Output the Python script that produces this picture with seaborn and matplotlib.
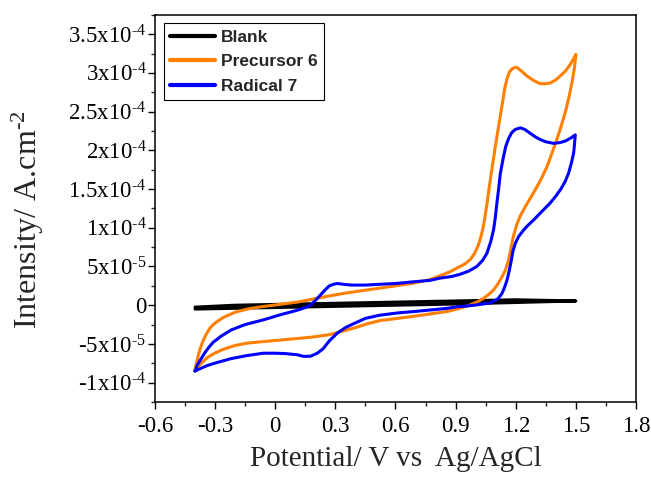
import numpy as np
import pandas as pd
import matplotlib
matplotlib.use("Agg")
import matplotlib.pyplot as plt
from matplotlib.ticker import FixedLocator, FixedFormatter, MultipleLocator
import seaborn as sns

# currents are in units of 1e-4 A/cm2, potentials in V vs Ag/AgCl
# each curve: forward scan -0.4 -> 1.5 then reverse 1.5 -> -0.4
blank_v = [-0.40, -0.20, 0.00, 0.30, 0.60, 0.90, 1.20, 1.50,
           1.20, 0.90, 0.60, 0.30, 0.00, -0.20, -0.40]
blank_i = [-0.050, -0.040, -0.030, -0.015, 0.000, 0.015, 0.035, 0.055,
           0.070, 0.055, 0.040, 0.025, 0.010, 0.000, -0.025]

prec_v = [-0.400, -0.392, -0.384, -0.374, -0.360, -0.345, -0.324, -0.300, -0.260, -0.200,
          -0.140, -0.070, -0.010, 0.050, 0.110, 0.190, 0.270, 0.360, 0.440, 0.520,
          0.600, 0.680, 0.770, 0.823, 0.870, 0.907, 0.945, 0.973, 0.995, 1.014,
          1.028, 1.040, 1.056, 1.073, 1.098, 1.115, 1.131, 1.145, 1.156, 1.168,
          1.181, 1.194, 1.206, 1.230, 1.256, 1.290, 1.322, 1.350, 1.372, 1.400,
          1.422, 1.450, 1.472, 1.488, 1.500,
          1.492, 1.480, 1.465, 1.447, 1.425, 1.405, 1.380, 1.356, 1.325, 1.297,
          1.272, 1.245, 1.222, 1.205, 1.189, 1.176, 1.164, 1.148, 1.130, 1.110,
          1.090, 1.070, 1.040, 1.006, 0.970, 0.907, 0.860, 0.780, 0.700, 0.610,
          0.520, 0.460, 0.400, 0.330, 0.270, 0.190, 0.110, 0.025, -0.060, -0.140,
          -0.200, -0.260, -0.310, -0.340, -0.365, -0.385, -0.400]
prec_i = [-0.84, -0.74, -0.65, -0.56, -0.46, -0.38, -0.29, -0.23, -0.16, -0.09,
          -0.05, -0.02, 0.00, 0.02, 0.04, 0.08, 0.12, 0.16, 0.19, 0.22,
          0.25, 0.28, 0.33, 0.38, 0.43, 0.48, 0.53, 0.59, 0.67, 0.78,
          0.90, 1.04, 1.30, 1.62, 2.05, 2.32, 2.57, 2.80, 2.92, 3.01,
          3.05, 3.07, 3.07, 3.02, 2.96, 2.90, 2.86, 2.86, 2.87, 2.91,
          2.96, 3.03, 3.11, 3.18, 3.24,
          3.05, 2.87, 2.68, 2.49, 2.30, 2.14, 1.96, 1.79, 1.62, 1.49,
          1.38, 1.26, 1.15, 1.04, 0.90, 0.74, 0.58, 0.45, 0.36, 0.27,
          0.20, 0.15, 0.09, 0.04, 0.00, -0.05, -0.08, -0.11, -0.14, -0.17,
          -0.20, -0.24, -0.29, -0.34, -0.38, -0.41, -0.43, -0.45, -0.47, -0.49,
          -0.52, -0.57, -0.63, -0.68, -0.74, -0.79, -0.84]

rad_v = [-0.400, -0.390, -0.374, -0.350, -0.330, -0.310, -0.270, -0.220, -0.150, -0.060,
         0.030, 0.110, 0.150, 0.175, 0.200, 0.225, 0.250, 0.270, 0.290, 0.310,
         0.340, 0.380, 0.450, 0.520, 0.600, 0.680, 0.770, 0.823, 0.880, 0.923,
         0.965, 1.006, 1.035, 1.056, 1.075, 1.089, 1.098, 1.106, 1.114, 1.123,
         1.139, 1.150, 1.164, 1.180, 1.198, 1.223, 1.245, 1.272, 1.300, 1.322,
         1.350, 1.389, 1.420, 1.447, 1.475, 1.497,
         1.493, 1.489, 1.478, 1.464, 1.447, 1.425, 1.400, 1.372, 1.330, 1.289,
         1.260, 1.239, 1.215, 1.198, 1.186, 1.178, 1.168, 1.156, 1.144, 1.131,
         1.110, 1.073, 1.023, 0.960, 0.907, 0.860, 0.780, 0.700, 0.610, 0.520,
         0.450, 0.390, 0.350, 0.310, 0.270, 0.240, 0.210, 0.175, 0.140, 0.110,
         0.050, 0.000, -0.060, -0.140, -0.220, -0.290, -0.340, -0.375, -0.400]
rad_i = [-0.85, -0.78, -0.71, -0.61, -0.54, -0.48, -0.40, -0.32, -0.25, -0.19,
         -0.12, -0.065, -0.03, 0.00, 0.06, 0.13, 0.20, 0.25, 0.27, 0.28,
         0.27, 0.26, 0.26, 0.27, 0.28, 0.30, 0.32, 0.35, 0.37, 0.40,
         0.44, 0.50, 0.58, 0.67, 0.82, 0.97, 1.13, 1.32, 1.49, 1.70,
         1.92, 2.05, 2.15, 2.23, 2.27, 2.29, 2.27, 2.22, 2.17, 2.14,
         2.11, 2.09, 2.10, 2.12, 2.16, 2.20,
         2.08, 1.97, 1.84, 1.71, 1.60, 1.50, 1.41, 1.32, 1.21, 1.10,
         1.03, 0.97, 0.89, 0.80, 0.70, 0.58, 0.45, 0.32, 0.23, 0.15,
         0.08, 0.03, 0.01, -0.01, -0.02, -0.04, -0.06, -0.08, -0.10, -0.13,
         -0.17, -0.24, -0.29, -0.36, -0.46, -0.56, -0.62, -0.66, -0.66, -0.64,
         -0.625, -0.62, -0.62, -0.65, -0.69, -0.74, -0.78, -0.82, -0.85]

names = ["Blank", "Precursor 6", "Radical 7"]
colors = {"Blank": "#000000", "Precursor 6": "#FF7F00", "Radical 7": "#0000FF"}

y_ticks = [-1e-4, -5e-5, 0, 5e-5, 1e-4, 1.5e-4, 2e-4, 2.5e-4, 3e-4, 3.5e-4]
y_ticklabels = ["-1x10$^{\\text{-4}}$", "-5x10$^{\\text{-5}}$", "0", "5x10$^{\\text{-5}}$",
                "1x10$^{\\text{-4}}$", "1.5x10$^{\\text{-4}}$", "2x10$^{\\text{-4}}$",
                "2.5x10$^{\\text{-4}}$", "3x10$^{\\text{-4}}$", "3.5x10$^{\\text{-4}}$"]
x_ticks = [-0.6, -0.3, 0, 0.3, 0.6, 0.9, 1.2, 1.5, 1.8]
x_ticklabels = ["-0.6", "-0.3", "0", "0.3", "0.6", "0.9", "1.2", "1.5", "1.8"]

#%% build long table
frames = []
for name, v, i in zip(names, [blank_v, prec_v, rad_v], [blank_i, prec_i, rad_i]):
    frames.append(pd.DataFrame({"E": v, "I": np.array(i) * 1e-4, "curve": name}))
df = pd.concat(frames, ignore_index=True)

#%% plot
sns.set_theme(style="ticks")
plt.rcParams["font.family"] = ["Liberation Serif", "DejaVu Serif"]
plt.rcParams["mathtext.fontset"] = "custom"
plt.rcParams["mathtext.rm"] = "Liberation Serif"
plt.rcParams["mathtext.it"] = "Liberation Serif:italic"
plt.rcParams["axes.unicode_minus"] = False

fig, ax = plt.subplots(figsize=(6.51, 4.78), dpi=100)
fig.subplots_adjust(left=0.238, right=0.977, top=0.969, bottom=0.159)

sns.lineplot(data=df, x="E", y="I", hue="curve", hue_order=names, palette=colors,
             sort=False, estimator=None, linewidth=2.2, ax=ax)

ax.set_xlim(-0.6, 1.8)
ax.set_ylim(-1.25e-4, 3.75e-4)
ax.xaxis.set_major_locator(FixedLocator(x_ticks))
ax.xaxis.set_major_formatter(FixedFormatter(x_ticklabels))
ax.xaxis.set_minor_locator(MultipleLocator(0.15))
ax.yaxis.set_major_locator(FixedLocator(y_ticks))
ax.yaxis.set_major_formatter(FixedFormatter(y_ticklabels))
ax.yaxis.set_minor_locator(MultipleLocator(2.5e-5))

ax.tick_params(which="major", direction="out", length=5, width=1, labelsize=16.5,
               colors="black", top=False, right=False)
ax.tick_params(axis="y", which="major", pad=1)
ax.tick_params(axis="x", which="major", pad=5)
ax.tick_params(which="minor", direction="out", length=3, width=1,
               top=False, right=False)
for s in ax.spines.values():
    s.set_visible(True)
    s.set_color("black")
    s.set_linewidth(1.1)

ax.set_xlabel("Potential/ V vs  Ag/AgCl", fontsize=21)
ax.set_ylabel("Intensity/ A.cm$^{\\text{-2}}$", fontsize=23)
ax.xaxis.set_label_coords(0.5, -0.114)
ax.yaxis.set_label_coords(-0.226, 0.47)

leg = ax.legend(loc="upper left", frameon=True, fancybox=False, framealpha=1,
                edgecolor="black", handlelength=2.6, handletextpad=0.35,
                borderaxespad=0.5, labelspacing=0.55, borderpad=0.35,
                prop={"family": "Liberation Sans", "weight": "bold", "size": 12.5})
leg.get_frame().set_linewidth(0.8)
for h in leg.get_lines():
    h.set_linewidth(3)

plt.savefig("out.png", dpi=100)
